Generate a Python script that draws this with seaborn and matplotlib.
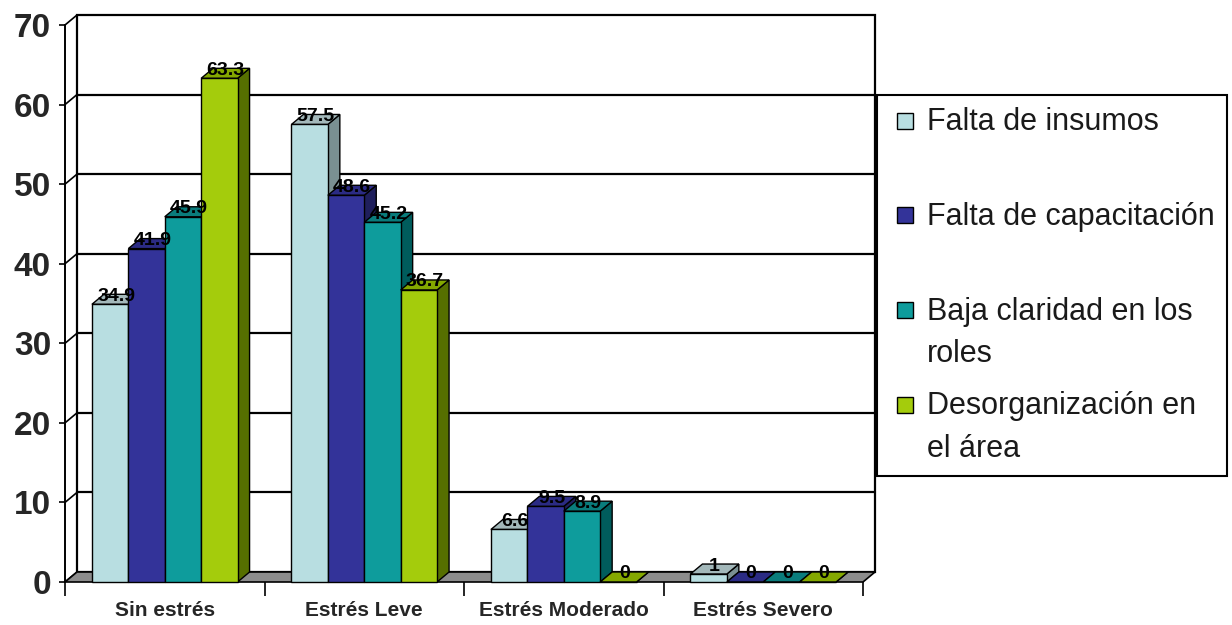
import numpy as np
import pandas as pd
import matplotlib
matplotlib.use("Agg")
import matplotlib.pyplot as plt
from matplotlib.patches import Polygon, Rectangle, Patch
from matplotlib.legend_handler import HandlerPatch
import seaborn as sns

# ---- data -------------------------------------------------------------
categorias = ["Sin estrés", "Estrés Leve", "Estrés Moderado", "Estrés Severo"]
series = [
    "Falta de insumos",
    "Falta de capacitación",
    "Baja claridad en los\nroles",
    "Desorganización en\nel área",
]
falta_insumos = [34.9, 57.5, 6.6, 1]
falta_capacitacion = [41.9, 48.6, 9.5, 0]
baja_claridad = [45.9, 45.2, 8.9, 0]
desorganizacion = [63.3, 36.7, 0, 0]
y_ticks = [0, 10, 20, 30, 40, 50, 60, 70]

valores = [falta_insumos, falta_capacitacion, baja_claridad, desorganizacion]
df = pd.DataFrame(
    [(c, s, v) for s, vals in zip(series, valores) for c, v in zip(categorias, vals)],
    columns=["categoria", "serie", "valor"],
)

# face colours: front, top, side
front = ["#B8DEE1", "#333399", "#0E9C9C", "#A4CC0C"]
top = ["#A3B8BA", "#2B2B84", "#0A7C7C", "#84A800"]
side = ["#7A9092", "#1F1F5C", "#005C5C", "#566F00"]

sns.set_style("white")
plt.rcParams["font.family"] = ["Liberation Sans", "DejaVu Sans"]

W, H = 1232, 625
fig = plt.figure(figsize=(W / 100, H / 100), dpi=100)
fig.patch.set_facecolor("white")
ax_l, ax_r, ax_b, ax_t = 65, 863, 582, 25
ax = fig.add_axes([ax_l / W, (H - ax_b) / H, (ax_r - ax_l) / W, (ax_b - ax_t) / H])

sns.barplot(
    data=df, x="categoria", y="valor", hue="serie", palette=front,
    width=0.73, saturation=1, edgecolor="black", linewidth=1,
    ax=ax, legend=False, errorbar=None,
)
# bars of each series, tagged with the series index
bars = [(k, p) for k, cont in enumerate(ax.containers) for p in cont.patches]
bars.sort(key=lambda kp: kp[1].get_x())

xmin, xmax, ymin, ymax = -0.5, 3.5, 0, 70
ax.set_xlim(xmin, xmax)
ax.set_ylim(ymin, ymax)
ax.set_facecolor("none")

# depth offset of the 3-D frame, in pixels converted to data units
dx = 12 / ((ax_r - ax_l) / (xmax - xmin))
dy = 10 / ((ax_b - ax_t) / (ymax - ymin))

# back wall with gridlines
ax.add_patch(Rectangle((xmin + dx, dy), xmax - xmin, ymax, facecolor="white",
                       edgecolor="black", lw=1.6, zorder=0.5, clip_on=False))
for v in y_ticks[1:-1]:
    ax.plot([xmin + dx, xmax + dx], [v + dy, v + dy], color="black", lw=1.6,
            zorder=0.6, clip_on=False)
# left wall connectors
for v in y_ticks:
    ax.plot([xmin, xmin + dx], [v, v + dy], color="black", lw=1.2,
            zorder=0.6, clip_on=False)
# floor
ax.add_patch(Polygon([(xmin, 0), (xmax, 0), (xmax + dx, dy), (xmin + dx, dy)],
                     closed=True, facecolor="#8C8C8C", edgecolor="black", lw=1.2,
                     zorder=1, clip_on=False))

# 3-D faces for each bar: side, top, then front on top
for i, (k, p) in enumerate(bars):
    x0, w, h = p.get_x(), p.get_width(), p.get_height()
    z = 3 + i * 0.1
    ax.add_patch(Polygon([(x0 + w, 0), (x0 + w + dx, dy), (x0 + w + dx, h + dy), (x0 + w, h)],
                         closed=True, facecolor=side[k], edgecolor="black", lw=1,
                         zorder=z, clip_on=False))
    ax.add_patch(Polygon([(x0, h), (x0 + w, h), (x0 + w + dx, h + dy), (x0 + dx, h + dy)],
                         closed=True, facecolor=top[k], edgecolor="black", lw=1,
                         zorder=z + 0.01, clip_on=False))
    p.set_zorder(z + 0.02)
    p.set_clip_on(False)

# value labels
for k, p in bars:
    x0, w, h = p.get_x(), p.get_width(), p.get_height()
    ax.text(x0 + w / 2 + dx / 2, h + dy * 0.8, f"{h:g}", ha="center", va="center",
            fontsize=14, fontweight="bold", color="black", zorder=20)

# axes styling
for s in ["top", "right"]:
    ax.spines[s].set_visible(False)
ax.spines["left"].set_color("black")
ax.spines["left"].set_linewidth(1.4)
ax.spines["left"].set_zorder(5)
ax.spines["bottom"].set_visible(False)
ax.set_yticks(y_ticks)
ax.set_yticklabels([str(v) for v in y_ticks])
ax.tick_params(axis="y", direction="out", length=4, width=1.2, color="black",
               labelsize=24, pad=6, left=True)
for t in ax.get_yticklabels():
    t.set_fontweight("bold")
ax.set_xticks(range(len(categorias)))
ax.set_xticklabels(categorias)
ax.set_xticks(np.arange(xmin, xmax + 0.01, 1.0), minor=True)
ax.tick_params(axis="x", which="major", length=0, labelsize=15, pad=14)
ax.tick_params(axis="x", which="minor", direction="out", length=10, width=1.2,
               color="black", bottom=True)
for t in ax.get_xticklabels():
    t.set_fontweight("bold")
ax.set_xlabel("")
ax.set_ylabel("")


# legend: square marker lined up with the first text line, right-aligned in its slot
class FirstLineSquare(HandlerPatch):
    def __init__(self, shift, size, **kw):
        super().__init__(**kw)
        self.shift = shift
        self.size = size

    def create_artists(self, legend, orig_handle, xdescent, ydescent, width,
                       height, fontsize, trans):
        s = self.size * fontsize
        r = Rectangle((-xdescent + width - s, -ydescent + self.shift * fontsize), s, s)
        self.update_prop(r, orig_handle, legend)
        r.set_transform(trans)
        return [r]


lspacing = 1.55
labels = [s if "\n" in s else s + "\n" for s in series]
handles = [Patch(facecolor=c, edgecolor="black", lw=1) for c in front]
leg = fig.legend(
    handles, labels, loc="upper left",
    bbox_to_anchor=(877 / W, 1 - 95 / H), borderaxespad=0,
    prop={"family": ["Liberation Sans"], "size": 22},
    handlelength=0.78, handleheight=0.52, handletextpad=0.45,
    borderpad=0.4, labelspacing=0.72, frameon=True, fancybox=False,
    framealpha=1, edgecolor="black",
    handler_map={Patch: FirstLineSquare(shift=0.8, size=0.52)},
)
leg.get_frame().set_linewidth(1.5)
for t in leg.get_texts():
    t.set_linespacing(lspacing)
    t.set_color("#1a1a1a")

fig.savefig("out.png", dpi=100, facecolor="white")
